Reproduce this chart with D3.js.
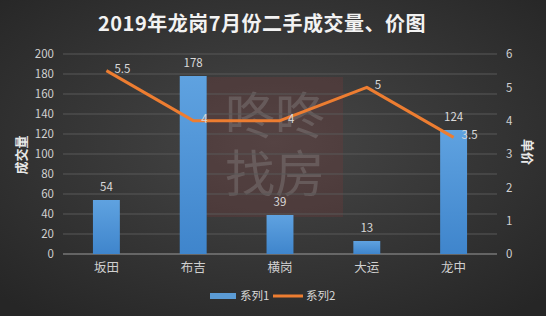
<!doctype html>
<html>
<head>
<meta charset="utf-8">
<script src="https://cdnjs.cloudflare.com/ajax/libs/d3/7.8.5/d3.min.js"></script>
<style>
  body { margin: 0; background: #2b2b2b; }
  svg { display: block; font-family: "Noto Sans CJK SC", "Microsoft YaHei", sans-serif; }
</style>
</head>
<body>
<svg width="546" height="316"></svg>
<script>
var districts = ["坂田", "布吉", "横岗", "大运", "龙中"];
var volume = [54, 178, 39, 13, 124];
var price = [5.5, 4, 4, 5, 3.5];
var leftTicks = [0, 20, 40, 60, 80, 100, 120, 140, 160, 180, 200];
var rightTicks = [0, 1, 2, 3, 4, 5, 6];

var svg = d3.select("svg");
var W = 546, H = 316;
var m = {top: 54, right: 49, bottom: 62, left: 63};

var defs = svg.append("defs");
var bg = defs.append("radialGradient").attr("id", "bg")
    .attr("cx", "50%").attr("cy", "45%").attr("r", "70%");
bg.append("stop").attr("offset", "0%").attr("stop-color", "#474747");
bg.append("stop").attr("offset", "100%").attr("stop-color", "#262626");
var barGrad = defs.append("linearGradient").attr("id", "bar")
    .attr("x1", 0).attr("y1", 0).attr("x2", 0).attr("y2", 1);
barGrad.append("stop").attr("offset", "0%").attr("stop-color", "#5fa2e0");
barGrad.append("stop").attr("offset", "100%").attr("stop-color", "#3f85cc");

svg.append("rect").attr("width", W).attr("height", H).attr("fill", "url(#bg)");

var x = d3.scaleBand().domain(districts).range([m.left, W - m.right])
  .paddingInner(0.69).paddingOuter(0.345);
var y = d3.scaleLinear().domain([0, 200]).range([H - m.bottom, m.top]);
var y2 = d3.scaleLinear().domain([0, 6]).range([H - m.bottom, m.top]);
var cx = d => x(d) + x.bandwidth() / 2;

// watermark
var wm = svg.append("g");
wm.append("rect").attr("x", 207).attr("y", 77).attr("width", 136).attr("height", 140)
  .attr("fill", "#7a3a3a").attr("opacity", 0.28);
wm.selectAll("text").data(["咚咚", "找房"]).enter().append("text")
  .attr("x", 275).attr("y", (d, i) => 134 + i * 58)
  .attr("text-anchor", "middle").attr("font-size", 50)
  .attr("fill", "#9a9a9a").attr("opacity", 0.3).text(d => d);

// gridlines
svg.append("g").selectAll("line").data(leftTicks.slice(1)).enter().append("line")
  .attr("x1", m.left).attr("x2", W - m.right)
  .attr("y1", d => y(d)).attr("y2", d => y(d))
  .attr("stroke", "#585858").attr("stroke-width", 1);

// axes
var gl = svg.append("g").attr("transform", "translate(" + m.left + ",0)")
  .call(d3.axisLeft(y).tickValues(leftTicks).tickSize(0).tickPadding(9));
var gr = svg.append("g").attr("transform", "translate(" + (W - m.right) + ",0)")
  .call(d3.axisRight(y2).tickValues(rightTicks).tickFormat(d3.format("d")).tickSize(0).tickPadding(9));
var gx = svg.append("g").attr("transform", "translate(0," + (H - m.bottom) + ")")
  .call(d3.axisBottom(x).tickSize(0).tickPadding(9));
[gl, gr, gx].forEach(g => {
  g.select(".domain").remove();
  g.selectAll("text").attr("fill", "#d0d0d0").attr("font-size", 11.5)
    .attr("font-family", "'Noto Sans CJK SC', sans-serif");
});
gx.selectAll("text").attr("font-size", 12.5);
svg.append("line").attr("x1", m.left).attr("x2", W - m.right)
  .attr("y1", y(0)).attr("y2", y(0)).attr("stroke", "#9a9a9a");

// bars
svg.append("g").selectAll("rect").data(volume).enter().append("rect")
  .attr("x", (d, i) => x(districts[i])).attr("width", x.bandwidth())
  .attr("y", d => y(d)).attr("height", d => y(0) - y(d))
  .attr("fill", "url(#bar)");
svg.append("g").selectAll("text").data(volume).enter().append("text")
  .attr("x", (d, i) => cx(districts[i])).attr("y", d => y(d) - 9)
  .attr("text-anchor", "middle").attr("font-size", 11.5).attr("fill", "#d9d9d9")
  .text(d => d);

// line
var line = d3.line().x((d, i) => cx(districts[i])).y(d => y2(d));
svg.append("path").datum(price).attr("d", line)
  .attr("fill", "none").attr("stroke", "#ed7d31").attr("stroke-width", 3)
  .attr("stroke-linejoin", "round");
svg.append("g").selectAll("text").data(price).enter().append("text")
  .attr("x", (d, i) => cx(districts[i]) + 8).attr("y", d => y2(d) + 2)
  .attr("font-size", 11.5).attr("fill", "#d9d9d9")
  .text(d => d);

// title
svg.append("text").attr("x", 262).attr("y", 31).attr("text-anchor", "middle")
  .attr("font-size", 20).attr("font-weight", "bold").attr("fill", "#f2f2f2")
  .attr("letter-spacing", 0.5)
  .text("2019年龙岗7月份二手成交量、价图");

// axis titles
svg.append("text").attr("transform", "translate(26,155) rotate(-90)")
  .attr("text-anchor", "middle").attr("font-size", 13).attr("font-weight", "bold")
  .attr("fill", "#e8e8e8").text("成交量");
svg.append("text").attr("transform", "translate(523,152) rotate(90)")
  .attr("text-anchor", "middle").attr("font-size", 13).attr("font-weight", "bold")
  .attr("fill", "#e8e8e8").text("单价");

// legend
var lg = svg.append("g").attr("transform", "translate(210,296)");
lg.append("rect").attr("x", 0).attr("y", -3).attr("width", 26).attr("height", 6).attr("fill", "#5b9bd5");
lg.append("text").attr("x", 30).attr("y", 4).attr("font-size", 11.5).attr("fill", "#d9d9d9").text("系列1");
lg.append("line").attr("x1", 63).attr("x2", 93).attr("y1", 0).attr("y2", 0)
  .attr("stroke", "#ed7d31").attr("stroke-width", 3);
lg.append("text").attr("x", 96).attr("y", 4).attr("font-size", 11.5).attr("fill", "#d9d9d9").text("系列2");
</script>
</body>
</html>
